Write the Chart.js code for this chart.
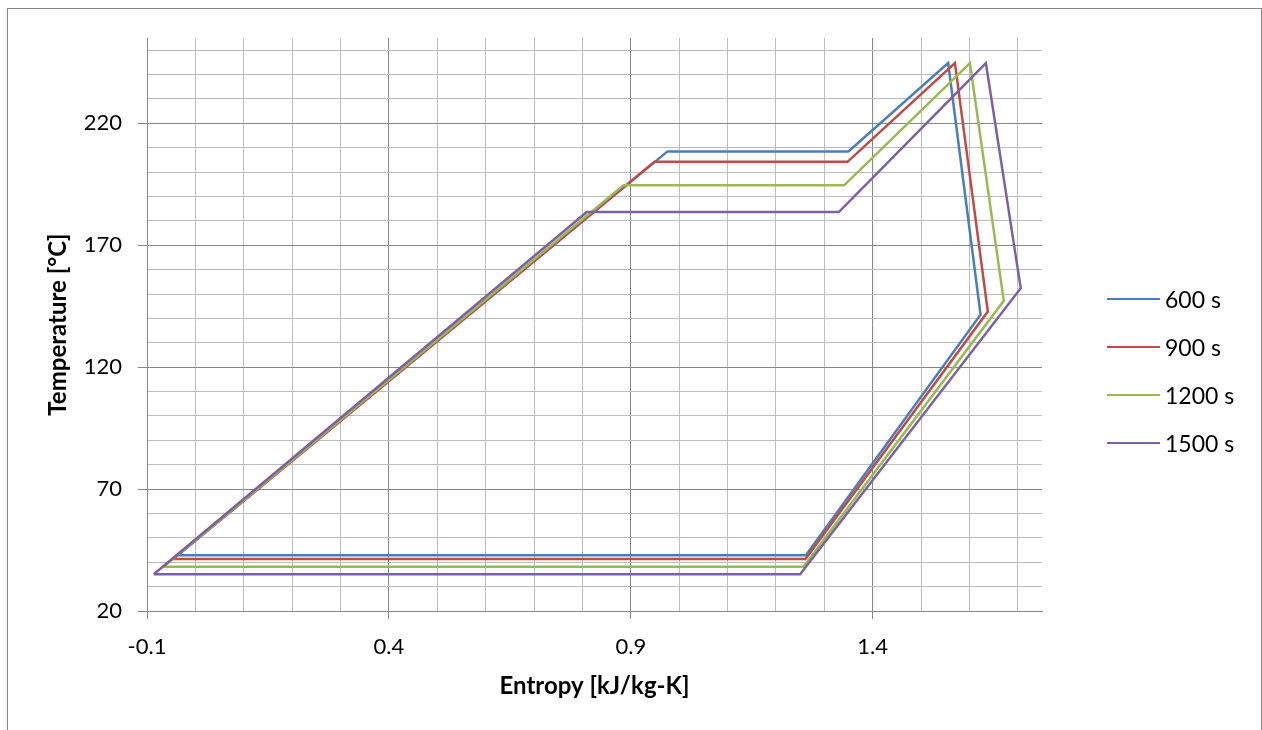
<!DOCTYPE html>
<html>
<head>
<meta charset="utf-8">
<script src="https://cdn.jsdelivr.net/npm/chart.js@4.4.1/dist/chart.umd.min.js"></script>
<style>
  html, body { margin: 0; padding: 0; background: #fff; overflow: hidden; }
  #wrap { position: relative; width: 1262px; height: 730px; }
  #frame { position: absolute; left: 7px; top: 8px; width: 1253px; height: 760px;
           border: 1px solid #868686; border-bottom: none; }
  #chart { position: absolute; left: 0; top: 0; }
  #legend { position: absolute; left: 1107px; top: 275px;
            font-family: Lato, "Open Sans", sans-serif; font-size: 23px; color: #000; }
  .item { display: flex; align-items: center; height: 48px; }
  .swatch { width: 53px; height: 2.5px; margin-right: 5px; }
</style>
</head>
<body>
<div id="wrap">
  <div id="frame"></div>
  <canvas id="chart" width="1262" height="730"></canvas>
  <div id="legend"></div>
</div>
<script>
// series: entropy [kJ/kg-K] and temperature [°C], loop closed back to the start
const seriesNames = ['600 s', '900 s', '1200 s', '1500 s'];
const seriesColors = ['#4A7EBB', '#BE4B48', '#98B954', '#7D60A0'];

const entropy600 = [-0.037, 0.976, 1.350, 1.556, 1.623, 1.262, -0.037];
const temp600    = [42.9, 208.5, 208.5, 244.7, 141.5, 42.9, 42.9];

const entropy900 = [-0.046, 0.949, 1.348, 1.570, 1.638, 1.261, -0.046];
const temp900    = [41.3, 204.2, 204.2, 244.7, 142.8, 41.3, 41.3];

const entropy1200 = [-0.066, 0.885, 1.341, 1.601, 1.671, 1.257, -0.066];
const temp1200    = [38.1, 194.6, 194.6, 244.7, 147.2, 38.1, 38.1];

const entropy1500 = [-0.086, 0.809, 1.330, 1.634, 1.706, 1.250, -0.086];
const temp1500    = [35.1, 183.6, 183.6, 244.7, 152.4, 35.1, 35.1];

// axes
const xGridTicks = [-0.1, 0, 0.1, 0.2, 0.3, 0.4, 0.5, 0.6, 0.7, 0.8, 0.9, 1.0, 1.1, 1.2, 1.3, 1.4, 1.5, 1.6, 1.7];
const xMajorTicks = [-0.1, 0.4, 0.9, 1.4];
const yGridTicks = [20, 30, 40, 50, 60, 70, 80, 90, 100, 110, 120, 130, 140, 150, 160, 170, 180, 190, 200, 210, 220, 230, 240, 250];
const yMajorTicks = [20, 70, 120, 170, 220];

const entropyLists = [entropy600, entropy900, entropy1200, entropy1500];
const tempLists = [temp600, temp900, temp1200, temp1500];

const MAJOR = '#868686', MINOR = '#bdbdbd';
const isIn = (list, v) => list.some(m => Math.abs(m - v) < 1e-9);

const datasets = seriesNames.map((name, i) => ({
  label: name,
  data: entropyLists[i].map((s, k) => ({ x: s, y: tempLists[i][k] })),
  borderColor: seriesColors[i],
  backgroundColor: seriesColors[i],
  borderWidth: 2.5,
  pointRadius: 0,
  showLine: true,
  tension: 0,
  fill: false,
  order: seriesNames.length - 1 - i // later series on top, like Excel
}));

const tickFont = { family: 'Lato, "Open Sans", sans-serif', size: 22 };
const titleFont = { family: 'Lato, "Open Sans", sans-serif', size: 24, weight: 'bold' };

new Chart(document.getElementById('chart'), {
  type: 'scatter',
  data: { datasets },
  options: {
    responsive: false,
    animation: false,
    devicePixelRatio: 1,
    layout: { padding: { left: 10, right: 220, top: 38, bottom: 20 } },
    plugins: { legend: { display: false }, tooltip: { enabled: false } },
    scales: {
      x: {
        type: 'linear', min: -0.1, max: 1.75,
        afterBuildTicks: s => { s.ticks = xGridTicks.map(v => ({ value: v })); },
        afterFit: s => { s.height = 99; },
        ticks: {
          autoSkip: false, maxRotation: 0, padding: 15, color: '#000', font: tickFont,
          callback: v => isIn(xMajorTicks, v) ? v.toFixed(1) : ''
        },
        grid: {
          color: c => c.tick && isIn(xMajorTicks, c.tick.value) ? MAJOR : MINOR,
          tickColor: c => c.tick && isIn(xMajorTicks, c.tick.value) ? MAJOR : 'rgba(0,0,0,0)',
          tickLength: 8, lineWidth: 1
        },
        border: { display: true, color: MAJOR, width: 1 },
        title: { display: true, text: 'Entropy [kJ/kg-K]', color: '#000', font: titleFont, padding: { top: 0, bottom: 9 } }
      },
      y: {
        type: 'linear', min: 20, max: 255,
        afterBuildTicks: s => { s.ticks = yGridTicks.map(v => ({ value: v })); },
        afterFit: s => { s.width = 137; },
        ticks: {
          autoSkip: false, padding: 16, color: '#000', font: tickFont,
          callback: v => isIn(yMajorTicks, v) ? String(v) : ''
        },
        grid: {
          color: c => c.tick && isIn(yMajorTicks, c.tick.value) ? MAJOR : MINOR,
          tickColor: c => c.tick && isIn(yMajorTicks, c.tick.value) ? MAJOR : 'rgba(0,0,0,0)',
          tickLength: 9, lineWidth: 1
        },
        border: { display: true, color: MAJOR, width: 1 },
        title: { display: true, text: 'Temperature [°C]', color: '#000', font: titleFont, padding: { top: 34, bottom: 0 } }
      }
    }
  }
});

// legend
const legend = document.getElementById('legend');
seriesNames.forEach((name, i) => {
  const row = document.createElement('div');
  row.className = 'item';
  row.innerHTML = `<span class="swatch" style="background:${seriesColors[i]}"></span><span>${name}</span>`;
  legend.appendChild(row);
});
</script>
</body>
</html>
